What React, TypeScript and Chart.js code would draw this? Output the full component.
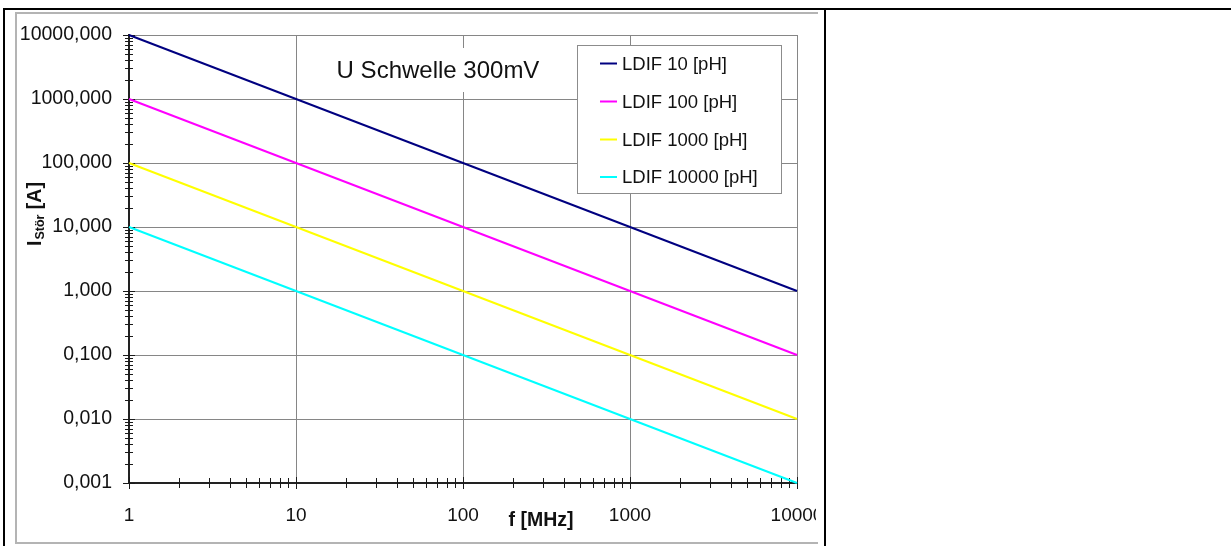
import React, { useEffect, useRef } from 'react';
import { Chart, registerables } from 'chart.js';

Chart.register(...registerables);

// ---- data ----
const frequencies = [1, 10, 100, 1000, 10000];
const ldif10 = [10000, 1000, 100, 10, 1];
const ldif100 = [1000, 100, 10, 1, 0.1];
const ldif1000 = [100, 10, 1, 0.1, 0.01];
const ldif10000 = [10, 1, 0.1, 0.01, 0.001];
const seriesLabels = ['LDIF 10 [pH]', 'LDIF 100 [pH]', 'LDIF 1000 [pH]', 'LDIF 10000 [pH]'];
const seriesColors = ['#000080', '#ff00ff', '#ffff00', '#00ffff'];
const xTickValues = [1, 10, 100, 1000, 10000];
const xTickLabels = ['1', '10', '100', '1000', '10000'];
const yTickValues = [0.001, 0.01, 0.1, 1, 10, 100, 1000, 10000];
const yTickLabels = ['0,001', '0,010', '0,100', '1,000', '10,000', '100,000', '1000,000', '10000,000'];
const chartTitle = 'U Schwelle 300mV';
const xAxisTitle = 'f [MHz]';
const yAxisTitleMain = 'I';
const yAxisTitleSub = 'Stör';
const yAxisTitleUnit = ' [A]';

const FONT = 'Arial, "Liberation Sans", sans-serif';
const TEXT = '#111111';

const decorPlugin = {
  id: 'decor',
  beforeDatasetsDraw(chart: any) {
    const ctx = chart.ctx as CanvasRenderingContext2D;
    const xs = chart.scales.x;
    const ys = chart.scales.y;
    const area = chart.chartArea;
    ctx.save();
    // minor / major ticks crossing the axes
    ctx.strokeStyle = '#1a1a1a';
    ctx.lineWidth = 1;
    const yMin = yTickValues[0];
    const yMax = yTickValues[yTickValues.length - 1];
    for (let d = yMin; d < yMax * 1.01; d *= 10) {
      for (let k = 1; k <= 9; k++) {
        const v = d * k;
        if (v > yMax * 1.0001) break;
        const py = Math.round(ys.getPixelForValue(v)) + 0.5;
        const h = k === 1 ? 6 : 4;
        ctx.beginPath();
        ctx.moveTo(area.left - h, py);
        ctx.lineTo(area.left + h, py);
        ctx.stroke();
      }
    }
    const xMin = xTickValues[0];
    const xMax = xTickValues[xTickValues.length - 1];
    for (let d = xMin; d < xMax * 1.01; d *= 10) {
      for (let k = 1; k <= 9; k++) {
        const v = d * k;
        if (v > xMax * 1.0001) break;
        const px = Math.round(xs.getPixelForValue(v)) + 0.5;
        const h = k === 1 ? 6 : 5;
        ctx.beginPath();
        ctx.moveTo(px, area.bottom - h);
        ctx.lineTo(px, area.bottom + h);
        ctx.stroke();
      }
    }
    // chart title inside plot
    ctx.font = `24px ${FONT}`;
    const tw = ctx.measureText(chartTitle).width;
    const tcx = 421;
    const tcy = 57;
    ctx.fillStyle = '#ffffff';
    ctx.fillRect(tcx - tw / 2 - 8, 34, tw + 16, 44);
    ctx.fillStyle = TEXT;
    ctx.textAlign = 'center';
    ctx.textBaseline = 'middle';
    ctx.fillText(chartTitle, tcx, tcy);
    ctx.restore();
  },
  afterDraw(chart: any) {
    const ctx = chart.ctx as CanvasRenderingContext2D;
    ctx.save();
    // legend
    const lx = 560, ly = 31, lw = 204, lh = 148;
    ctx.fillStyle = '#ffffff';
    ctx.fillRect(lx, ly, lw, lh);
    ctx.strokeStyle = '#8c8c8c';
    ctx.lineWidth = 1;
    ctx.strokeRect(lx + 0.5, ly + 0.5, lw, lh);
    const rows = [49.5, 87.5, 125.5, 163];
    ctx.font = `18.5px ${FONT}`;
    ctx.textAlign = 'left';
    ctx.textBaseline = 'middle';
    chart.data.datasets.forEach((ds: any, i: number) => {
      const y = rows[i];
      ctx.strokeStyle = ds.borderColor;
      ctx.lineWidth = 2;
      ctx.beginPath();
      ctx.moveTo(583, y);
      ctx.lineTo(600, y);
      ctx.stroke();
      ctx.fillStyle = TEXT;
      ctx.fillText(ds.label, 605, y + 1);
    });
    // x axis title
    ctx.font = `bold 19.5px ${FONT}`;
    ctx.textAlign = 'center';
    ctx.textBaseline = 'middle';
    ctx.fillStyle = TEXT;
    ctx.fillText(xAxisTitle, 524, 507);
    // y axis title (rotated, with subscript)
    ctx.translate(24, 232);
    ctx.rotate(-Math.PI / 2);
    ctx.textAlign = 'left';
    ctx.textBaseline = 'alphabetic';
    ctx.font = `bold 19.5px ${FONT}`;
    ctx.fillText(yAxisTitleMain, 0, 0);
    let w = ctx.measureText(yAxisTitleMain).width;
    ctx.font = `bold 12.5px ${FONT}`;
    ctx.fillText(yAxisTitleSub, w + 1, 3);
    w += ctx.measureText(yAxisTitleSub).width + 1;
    ctx.font = `bold 19.5px ${FONT}`;
    ctx.fillText(yAxisTitleUnit, w, 0);
    ctx.restore();
  },
};

export default function App() {
  const ref = useRef<HTMLCanvasElement>(null);
  useEffect(() => {
    const series = [ldif10, ldif100, ldif1000, ldif10000];
    const chart = new Chart(ref.current as HTMLCanvasElement, {
      type: 'line',
      data: {
        datasets: series.map((vals, i) => ({
          label: seriesLabels[i],
          data: frequencies.map((f, j) => ({ x: f, y: vals[j] })),
          borderColor: seriesColors[i],
          backgroundColor: seriesColors[i],
          borderWidth: 2,
          pointRadius: 0,
          tension: 0,
          clip: 4,
        })),
      },
      options: {
        animation: false,
        responsive: false,
        devicePixelRatio: 1,
        layout: { padding: { top: 21, right: 19, left: 0, bottom: 0 } },
        plugins: {
          legend: { display: false },
          tooltip: { enabled: false },
          title: { display: false },
        },
        scales: {
          x: {
            type: 'logarithmic',
            min: 1,
            max: 10000,
            afterBuildTicks: (s: any) => {
              s.ticks = xTickValues.map((v) => ({ value: v }));
            },
            afterFit: (s: any) => {
              s.height = 59;
              s.paddingLeft = 0;
              s.paddingRight = 0;
            },
            ticks: {
              autoSkip: false,
              maxRotation: 0,
              minRotation: 0,
              padding: 21,
              color: TEXT,
              font: { family: FONT, size: 19 },
              callback: (v: any) => {
                const idx = xTickValues.findIndex((t) => Math.abs(t - Number(v)) < t * 1e-6);
                return idx >= 0 ? xTickLabels[idx] : '';
              },
            },
            grid: { color: '#868686', lineWidth: 1, drawTicks: false },
            border: { color: '#222', width: 2 },
          },
          y: {
            type: 'logarithmic',
            min: 0.001,
            max: 10000,
            afterBuildTicks: (s: any) => {
              s.ticks = yTickValues.map((v) => ({ value: v }));
            },
            afterFit: (s: any) => {
              s.width = 112;
              s.paddingTop = 0;
              s.paddingBottom = 0;
            },
            ticks: {
              autoSkip: false,
              padding: 17,
              color: TEXT,
              font: { family: FONT, size: 19.5 },
              callback: (v: any) => {
                const idx = yTickValues.findIndex((t) => Math.abs(t - Number(v)) < t * 1e-6);
                return idx >= 0 ? yTickLabels[idx] : '';
              },
            },
            grid: { color: '#868686', lineWidth: 1, drawTicks: false },
            border: { color: '#222', width: 2 },
          },
        },
      } as any,
      plugins: [decorPlugin],
    });
    return () => chart.destroy();
  }, []);

  return (
    <div
      style={{
        position: 'absolute',
        left: 0,
        top: 0,
        width: 1231,
        height: 546,
        background: '#ffffff',
        overflow: 'hidden',
      }}
    >
      <div style={{ position: 'absolute', left: 3, top: 8, width: 1228, height: 2, background: '#000' }} />
      <div style={{ position: 'absolute', left: 3, top: 8, width: 2, height: 538, background: '#000' }} />
      <div style={{ position: 'absolute', left: 824, top: 8, width: 2, height: 538, background: '#000' }} />
      <div
        style={{
          position: 'absolute',
          left: 15,
          top: 12,
          width: 801,
          height: 528,
          borderTop: '2px solid #b4b4b4',
          borderLeft: '2px solid #b4b4b4',
          borderBottom: '2px solid #b4b4b4',
        }}
      />
      <canvas
        ref={ref}
        width={799}
        height={528}
        style={{ position: 'absolute', left: 17, top: 14, width: 799, height: 528 }}
      />
    </div>
  );
}
